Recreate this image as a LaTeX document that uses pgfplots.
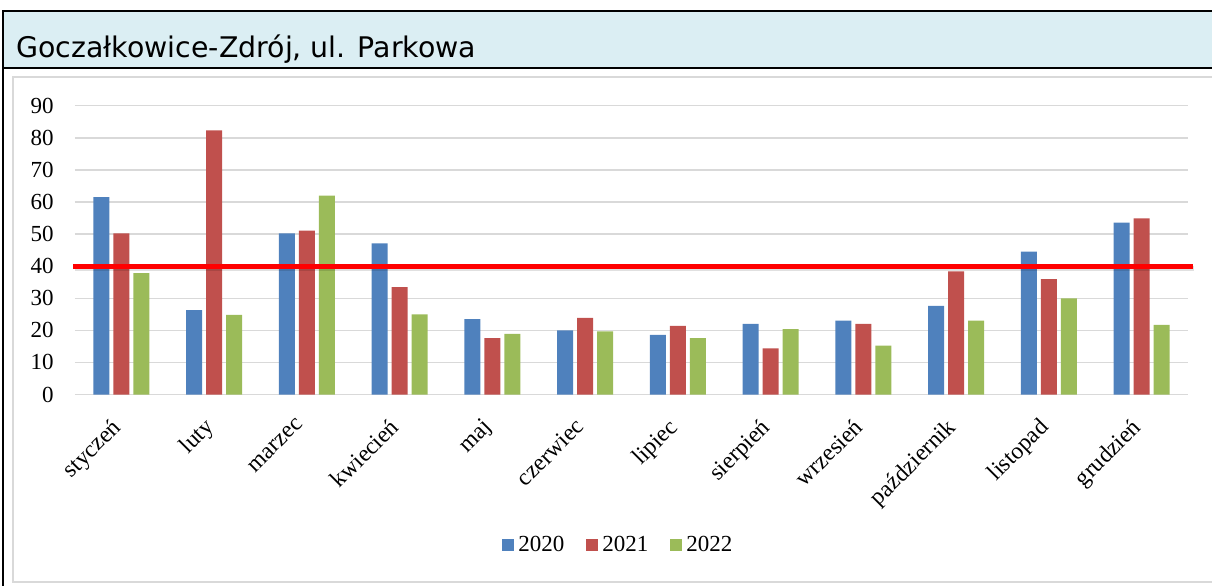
\documentclass[border=0pt]{standalone}
\usepackage{fontspec}
\setmainfont{Liberation Serif}
\newfontfamily\titlefont{DejaVu Sans}
\usepackage{pgfplots}
\pgfplotsset{compat=1.18}
\definecolor{cA}{HTML}{4F81BD}
\definecolor{cB}{HTML}{C0504D}
\definecolor{cC}{HTML}{9BBB59}
\definecolor{titlebg}{HTML}{DBEEF3}
\definecolor{gridgray}{HTML}{D9D9D9}
\begin{document}
\begin{tikzpicture}
\useasboundingbox (0,0) rectangle (606pt,-292.5pt);
\fill[titlebg] (1.5pt,-5.5pt) rectangle (606pt,-34pt);
\draw[line width=1.25pt] (1.5pt,-293pt) -- (1.5pt,-5.5pt) -- (607pt,-5.5pt);
\draw[line width=1.25pt] (1.5pt,-34pt) -- (607pt,-34pt);
\draw[gridgray, line width=0.75pt] (607pt,-38.5pt) -- (6.5pt,-38.5pt) -- (6.5pt,-291pt) -- (607pt,-291pt);
\node[anchor=base west, inner sep=0pt, font=\titlefont\fontsize{14.2}{16}\selectfont] at (8pt,-28.5pt) {Goczałkowice-Zdrój, ul. Parkowa};
\begin{axis}[
  at={(37.5pt,-197.25pt)}, anchor=south west,
  scale only axis, width=556.5pt, height=144.4pt,
  xmin=-0.5, xmax=11.5, ymin=0, ymax=90,
  ytick={0,10,...,90},
  xtick={0,...,11},
  xticklabels={styczeń,luty,marzec,kwiecień,maj,czerwiec,lipiec,sierpień,wrzesień,październik,listopad,grudzień},
  /pgf/number format/assume math mode=true,
  axis line style={draw=none},
  major tick length=0pt,
  tick style={draw=none},
  ymajorgrids,
  grid style={gridgray, line width=0.75pt},
  clip=false,
  tick label style={font=\fontsize{11.5}{12}\selectfont},
  yticklabel style={inner sep=0pt, xshift=-10.5pt},
  xticklabel style={xshift=-5.5pt, yshift=-11pt, rotate=45, anchor=north east, inner sep=0pt, font=\fontsize{11.8}{12}\selectfont},
  legend style={at={(0.489,-0.521)}, anchor=center, draw=none, fill=none,
    legend columns=-1, font=\fontsize{11.5}{12}\selectfont,
    /tikz/every even column/.append style={column sep=9pt}},
  legend image code/.code={\fill[#1] (0pt,-3pt) rectangle (6pt,3pt);},
]
\addplot[ybar, bar width=8pt, bar shift=-10pt, fill=cA, draw=none] coordinates {(0,61.5) (1,26.3) (2,50.2) (3,47.1) (4,23.5) (5,20.0) (6,18.6) (7,22.0) (8,23.0) (9,27.6) (10,44.5) (11,53.6)};
\addplot[ybar, bar width=8pt, bar shift=0pt, fill=cB, draw=none] coordinates {(0,50.2) (1,82.3) (2,51.1) (3,33.5) (4,17.6) (5,23.9) (6,21.4) (7,14.4) (8,22.0) (9,38.4) (10,36.0) (11,54.9)};
\addplot[ybar, bar width=8pt, bar shift=10pt, fill=cC, draw=none] coordinates {(0,37.8) (1,24.8) (2,62.0) (3,25.0) (4,18.9) (5,19.7) (6,17.6) (7,20.4) (8,15.2) (9,23.0) (10,30.0) (11,21.7)};
\legend{2020,2021,2022}
\addplot[sharp plot, black, opacity=0.12, line width=2.5pt, forget plot] coordinates {(-0.5,39.2) (11.56,39.2)};
\addplot[sharp plot, red, line width=2.5pt, forget plot] coordinates {(-0.52,40) (11.55,40)};
\end{axis}
\end{tikzpicture}
\end{document}
